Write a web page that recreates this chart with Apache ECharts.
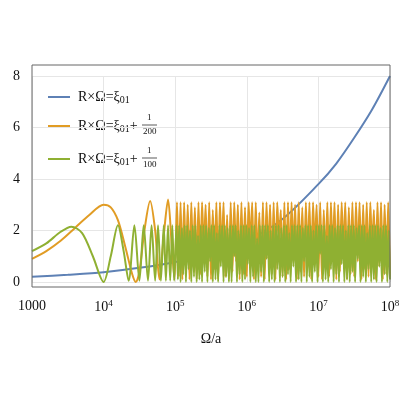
<!DOCTYPE html>
<html><head><meta charset="utf-8">
<script src="https://cdn.jsdelivr.net/npm/echarts@6/dist/echarts.min.js"></script>
<style>html,body{margin:0;padding:0;background:#fff}#c{width:400px;height:400px}</style>
</head><body><div id="c"></div>
<script>
// log10(Ω/a) vs C/Ω
var blueX = [3, 3.5, 4, 4.5, 5, 5.5, 6, 6.5, 7, 7.25, 7.5, 7.75, 8];
var blueY = [0.2, 0.28, 0.38, 0.55, 0.78, 1.1, 1.6, 2.45, 3.8, 4.6, 5.6, 6.7, 8.0];

var orangeHeadX = [3, 3.2, 3.4, 3.6, 3.8, 4.0, 4.1, 4.2, 4.3, 4.4, 4.45, 4.5, 4.57, 4.65, 4.72, 4.78, 4.84, 4.9, 4.95, 4.99];
var orangeHeadY = [0.9, 1.2, 1.6, 2.1, 2.6, 3.0, 2.9, 2.4, 1.4, 0.3, 0.0, 0.4, 2.0, 3.15, 2.0, 0.1, 1.8, 3.2, 1.5, 0.1];
var orangeTailY = [3.1, 0.2, 3.1, 0.1, 3.1, 0.4, 3.0, 0.1, 3.1, 0.6, 2.9, 0.1, 3.1, 0.3, 3.1, 1.2, 3.0, 0.2, 3.1, 0.1,
  2.8, 0.5, 3.1, 0.1, 3.1, 1.0, 3.1, 0.2, 2.6, 0.1, 3.1, 0.4, 3.1, 0.8, 3.0, 0.1, 3.1, 0.3, 2.9, 0.2,
  3.1, 1.4, 3.1, 0.1, 3.1, 0.6, 2.7, 0.2, 3.1, 0.1, 3.1, 0.9, 3.0, 0.3, 3.1, 0.1, 3.1, 1.6, 2.8, 0.2,
  3.1, 0.1, 3.1, 0.5, 3.1, 1.1, 3.0, 0.1, 3.1, 0.4, 2.9, 0.2, 3.1, 0.7, 3.1, 0.1, 3.1, 1.3, 3.0, 0.2,
  3.1, 0.1, 2.8, 0.6, 3.1, 0.2, 3.1, 0.9, 3.1, 0.1, 3.0, 0.4, 3.1, 1.0, 3.1, 0.1, 2.9, 0.3, 3.1, 0.2,
  3.1, 0.8, 3.1, 0.1, 3.0, 0.5, 3.1, 0.2, 3.1, 1.2, 2.8, 0.1, 3.1, 0.6, 3.1, 0.1, 3.0, 0.3, 3.1, 0.2];

var greenHeadX = [3, 3.2, 3.4, 3.55, 3.7, 3.85, 4.0, 4.1, 4.2, 4.28, 4.35, 4.43, 4.5, 4.56, 4.62, 4.67, 4.72, 4.76, 4.8, 4.84, 4.87, 4.9, 4.93, 4.96, 4.985];
var greenHeadY = [1.2, 1.5, 1.95, 2.15, 1.9, 1.0, 0.0, 1.0, 2.2, 1.2, 0.05, 2.2, 0.05, 2.2, 0.05, 2.2, 0.05, 2.2, 0.05, 2.2, 0.05, 2.2, 0.05, 2.2, 0.05];
var greenTailY = [2.2, 0.1, 2.2, 0.0, 2.1, 0.3, 2.2, 0.0, 2.2, 0.5, 2.0, 0.0, 2.2, 0.2, 2.2, 0.0, 1.8, 0.1, 2.2, 0.0,
  2.2, 0.4, 2.2, 0.0, 2.1, 0.8, 2.2, 0.0, 2.2, 0.1, 1.9, 0.0, 2.2, 0.6, 2.2, 0.0, 2.2, 0.2, 2.1, 0.0,
  2.2, 0.0, 2.2, 1.0, 2.2, 0.0, 2.0, 0.3, 2.2, 0.0, 2.2, 0.1, 2.2, 0.7, 2.1, 0.0, 2.2, 0.2, 2.2, 0.0,
  1.7, 0.0, 2.2, 0.4, 2.2, 0.0, 2.2, 0.9, 2.2, 0.0, 2.0, 0.1, 2.2, 0.0, 2.2, 0.5, 2.2, 0.0, 2.1, 0.2,
  2.2, 0.0, 2.2, 0.3, 1.9, 0.0, 2.2, 0.6, 2.2, 0.0, 2.2, 0.1, 2.2, 0.0, 2.1, 0.8, 2.2, 0.0, 2.2, 0.2,
  2.2, 0.0, 2.0, 0.4, 2.2, 0.0, 2.2, 1.1, 2.2, 0.0, 2.2, 0.1, 1.8, 0.0, 2.2, 0.5, 2.2, 0.0, 2.1, 0.3,
  2.2, 0.0, 2.2, 0.7, 2.2, 0.0, 2.0, 0.1, 2.2, 0.0, 2.2, 0.4, 2.2, 0.0, 2.1, 0.9, 2.2, 0.0, 2.2, 0.2,
  2.2, 0.0, 1.9, 0.5, 2.2, 0.0, 2.2, 0.1, 2.2, 0.0, 2.2, 0.6, 2.1, 0.0, 2.2, 0.3, 2.2, 0.0, 2.0, 0.1];

var xTicks = ['1000', '10{s|4}', '10{s|5}', '10{s|6}', '10{s|7}', '10{s|8}'];

function build(hx, hy, tail) {
  var d = hx.map(function (x, i) { return [x, hy[i]]; });
  var step = (8 - 5) / tail.length;
  tail.forEach(function (v, i) { d.push([5 + (i + 1) * step, v]); });
  return d;
}
var blue = blueX.map(function (x, i) { return [x, blueY[i]]; });
var orange = build(orangeHeadX, orangeHeadY, orangeTailY);
var green = build(greenHeadX, greenHeadY, greenTailY);

var F = 'Liberation Serif';
var chart = echarts.init(document.getElementById('c'));
function line(d, c) {
  return { type: 'line', data: d, showSymbol: false, clip: false, smooth: 0.3,
    lineStyle: { color: c, width: 2 }, itemStyle: { color: c } };
}
var legRich = {
  b: { fontFamily: F, fontSize: 14, fill: '#111' },
  sub: { fontFamily: F, fontSize: 10, fill: '#111', padding: [6, 0, 0, 0] }
};
function legText(y, t) {
  return { type: 'text', x: 78, y: y, style: { text: t, rich: legRich, fill: '#111', font: '14px "Liberation Serif"', verticalAlign: 'middle' } };
}
chart.setOption({
  animation: false,
  grid: { left: 32, right: 10, top: 76, bottom: 118, containLabel: false, outerBoundsMode: 'none' },
  xAxis: {
    type: 'value', min: 3, max: 8, interval: 1,
    axisLine: { show: false }, axisTick: { show: false },
    splitLine: { lineStyle: { color: '#e6e6e6' } },
    axisLabel: { margin: 17, color: '#111', fontFamily: F, fontSize: 14,
      formatter: function (v) { return xTicks[Math.round(v) - 3]; },
      rich: { s: { fontSize: 9, verticalAlign: 'top', padding: [0, 0, 8, 0], fontFamily: F } } },
    name: 'Ω/a', nameLocation: 'middle', nameGap: 50,
    nameTextStyle: { fontFamily: F, fontSize: 14, color: '#111' }
  },
  yAxis: {
    type: 'value', min: 0, max: 8, interval: 2,
    axisLine: { show: false }, axisTick: { show: false },
    splitLine: { lineStyle: { color: '#e6e6e6' } },
    axisLabel: { margin: 12, color: '#111', fontFamily: F, fontSize: 14 },
    name: '{i|C}/Ω', nameLocation: 'middle', nameGap: 22,
    nameTextStyle: { fontFamily: F, fontSize: 14, color: '#111', rich: { i: { fontStyle: 'italic', fontFamily: F, fontSize: 14 } } }
  },
  graphic: [
    { type: 'rect', shape: { x: 32, y: 65, width: 358, height: 222 }, style: { fill: 'none', stroke: '#666', lineWidth: 1 }, z: 10 },
    { type: 'line', shape: { x1: 48, y1: 97, x2: 70, y2: 97 }, style: { stroke: '#5e81b5', lineWidth: 2 } },
    { type: 'line', shape: { x1: 48, y1: 126, x2: 70, y2: 126 }, style: { stroke: '#e19c24', lineWidth: 2 } },
    { type: 'line', shape: { x1: 48, y1: 159, x2: 70, y2: 159 }, style: { stroke: '#8fb032', lineWidth: 2 } },
    legText(97, '{b|R×Ω=ξ}{sub|01}'),
    legText(126, '{b|R×Ω=ξ}{sub|01}{b|+}'),
    legText(159, '{b|R×Ω=ξ}{sub|01}{b|+}'),
    { type: 'text', left: 147, top: 113, style: { text: '1', font: '9px "Liberation Serif"', fill: '#111' } },
    { type: 'line', shape: { x1: 142, y1: 125, x2: 157, y2: 125 }, style: { stroke: '#111', lineWidth: 0.7 } },
    { type: 'text', left: 143, top: 127, style: { text: '200', font: '9px "Liberation Serif"', fill: '#111' } },
    { type: 'text', left: 147, top: 146, style: { text: '1', font: '9px "Liberation Serif"', fill: '#111' } },
    { type: 'line', shape: { x1: 142, y1: 158, x2: 157, y2: 158 }, style: { stroke: '#111', lineWidth: 0.7 } },
    { type: 'text', left: 143, top: 160, style: { text: '100', font: '9px "Liberation Serif"', fill: '#111' } }
  ],
  series: [line(blue, '#5e81b5'), line(orange, '#e19c24'), line(green, '#8fb032')]
});
</script></body></html>
